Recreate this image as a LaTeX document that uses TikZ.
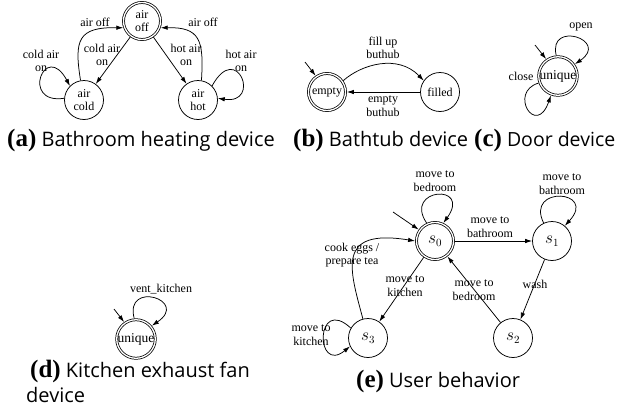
\documentclass[tikz,border=0pt]{standalone}
\usepackage{fontspec}
\setmainfont{Liberation Serif}
\newfontfamily\capfont{Open Sans}
\usetikzlibrary{arrows.meta}
\newcommand{\figtag}[1]{{\rmfamily\bfseries\fontsize{25}{25}\selectfont(#1)}}

\begin{document}
\begin{tikzpicture}
[
    x=1pt, y=-1pt,
    st/.style={circle, draw, line width=0.75pt, minimum size=39pt, inner sep=0pt, align=center, font=\fontsize{12}{13.5}\selectfont},
    acc/.style={st, double, double distance=1.3pt, minimum size=37pt, outer sep=1.4pt},
    tr/.style={-{Latex[length=7pt, width=4.5pt]}, line width=0.75pt},
    lbl/.style={align=center, inner sep=0pt, font=\fontsize{12}{13.5}\selectfont},
    sub/.style={anchor=base west, inner sep=0pt, font=\capfont\fontsize{20}{22}\selectfont},
]
\useasboundingbox (0,0) rectangle (619,418);

\node [acc] (off) at (142,21) {air\\off};
\node [st] (cold) at (84,100) {air\\cold};
\node [st] (hot) at (198,100) {air\\hot};
\draw [tr] (off) -- (cold);
\draw [tr] (off) -- (hot);
\draw [tr] (cold.100) .. controls (74,40) and (78,27) .. (off.200);
\draw [tr] (hot.80) .. controls (204,40) and (200,27) .. (off.340);
\draw [tr] (cold.175) .. controls (20,105) and (45,40) .. (cold.135);
\draw [tr] (hot.45) .. controls (237,40) and (262,105) .. (hot.5);
\node [lbl] (l1) at (102,55) {cold air\\on};
\node [lbl] (l2) at (186,55) {hot air\\on};
\node [lbl] (l3) at (95,22) {air off};
\node [lbl] (l4) at (203,22) {air off};
\node [lbl] (l5) at (41,61) {cold air\\on};
\node [lbl] (l6) at (241,61) {hot air\\on};
\node [sub] (capa) at (7,146) {\figtag{a} Bathroom heating device};

\node [acc] (empty) at (327,92) {empty};
\node [st] (filled) at (440,92) {filled};
\coordinate (ib) at (305,62);
\draw [tr] (ib) -- (empty.125);
\draw [tr] (empty.35) .. controls (362,64) and (398,54) .. (filled.145);
\draw [tr] (filled) -- (empty);
\node [lbl] (l7) at (383,48) {fill up\\buthub};
\node [lbl] (l8) at (383,106) {empty\\buthub};
\node [sub] (capb) at (293,146) {\figtag{b} Bathtub device};

\node [acc, font=\fontsize{13.5}{14}\selectfont] (door) at (558,76) {unique};
\coordinate (ic) at (535,45);
\draw [tr] (ic) -- (door.125);
\draw [tr] (door.95) .. controls (548,20) and (610,40) .. (door.35);
\draw [tr] (door.200) .. controls (508,92) and (536,138) .. (door.250);
\node [lbl] (l9) at (581,27) {open};
\node [lbl] (l10) at (521,76) {close};
\node [sub, font=\capfont\fontsize{19.5}{22}\selectfont] (capc) at (474,146) {\figtag{c} Door device};

\node [acc, font=\fontsize{13.5}{14}\selectfont] (fan) at (136,339) {unique};
\coordinate (id) at (114,309);
\draw [tr] (id) -- (fan.125);
\draw [tr] (fan.95) .. controls (124,280) and (190,300) .. (fan.40);
\node [lbl] (l11) at (161,289) {vent\_kitchen};
\node [sub] (capd) at (30,377) {\figtag{d} Kitchen exhaust fan};
\node [sub] (capd2) at (26,402) {device};

\node [acc, font=\fontsize{16}{16}\selectfont] (s0) at (435,241) {$s_0$};
\node [st, font=\fontsize{16}{16}\selectfont] (s1) at (552,241) {$s_1$};
\node [st, font=\fontsize{16}{16}\selectfont] (s2) at (513,338) {$s_2$};
\node [st, font=\fontsize{16}{16}\selectfont] (s3) at (368,338) {$s_3$};
\coordinate (ie) at (393,212);
\draw [tr] (ie) -- (s0.145);
\draw [tr] (s0.115) .. controls (403,188) and (472,183) .. (s0.65);
\draw [tr] (s0) -- (s1);
\draw [tr] (s1.115) .. controls (525,185) and (598,190) .. (s1.50);
\draw [tr] (s1) -- (s2);
\draw [tr] (s2) -- (s0);
\draw [tr] (s0) -- (s3);
\draw [tr] (s3.105) .. controls (350,270) and (335,228) .. (s0.west);
\draw [tr] (s3.150) .. controls (315,295) and (315,375) .. (s3.205);
\node [lbl] (l12) at (435,181) {move to\\bedroom};
\node [lbl] (l13) at (490,227) {move to\\bathroom};
\node [lbl] (l14) at (562,184) {move to\\bathroom};
\node [lbl] (l15) at (535,284) {wash};
\node [lbl] (l16) at (474,290) {move to\\bedroom};
\node [lbl] (l17) at (405,286) {move to\\kitchen};
\node [lbl] (l18) at (352,255) {cook eggs /\\prepare tea};
\node [lbl] (l19) at (311,335) {move to\\kitchen};
\node [sub] (cape) at (356,387) {\figtag{e} User behavior};
\end{tikzpicture}
\end{document}
